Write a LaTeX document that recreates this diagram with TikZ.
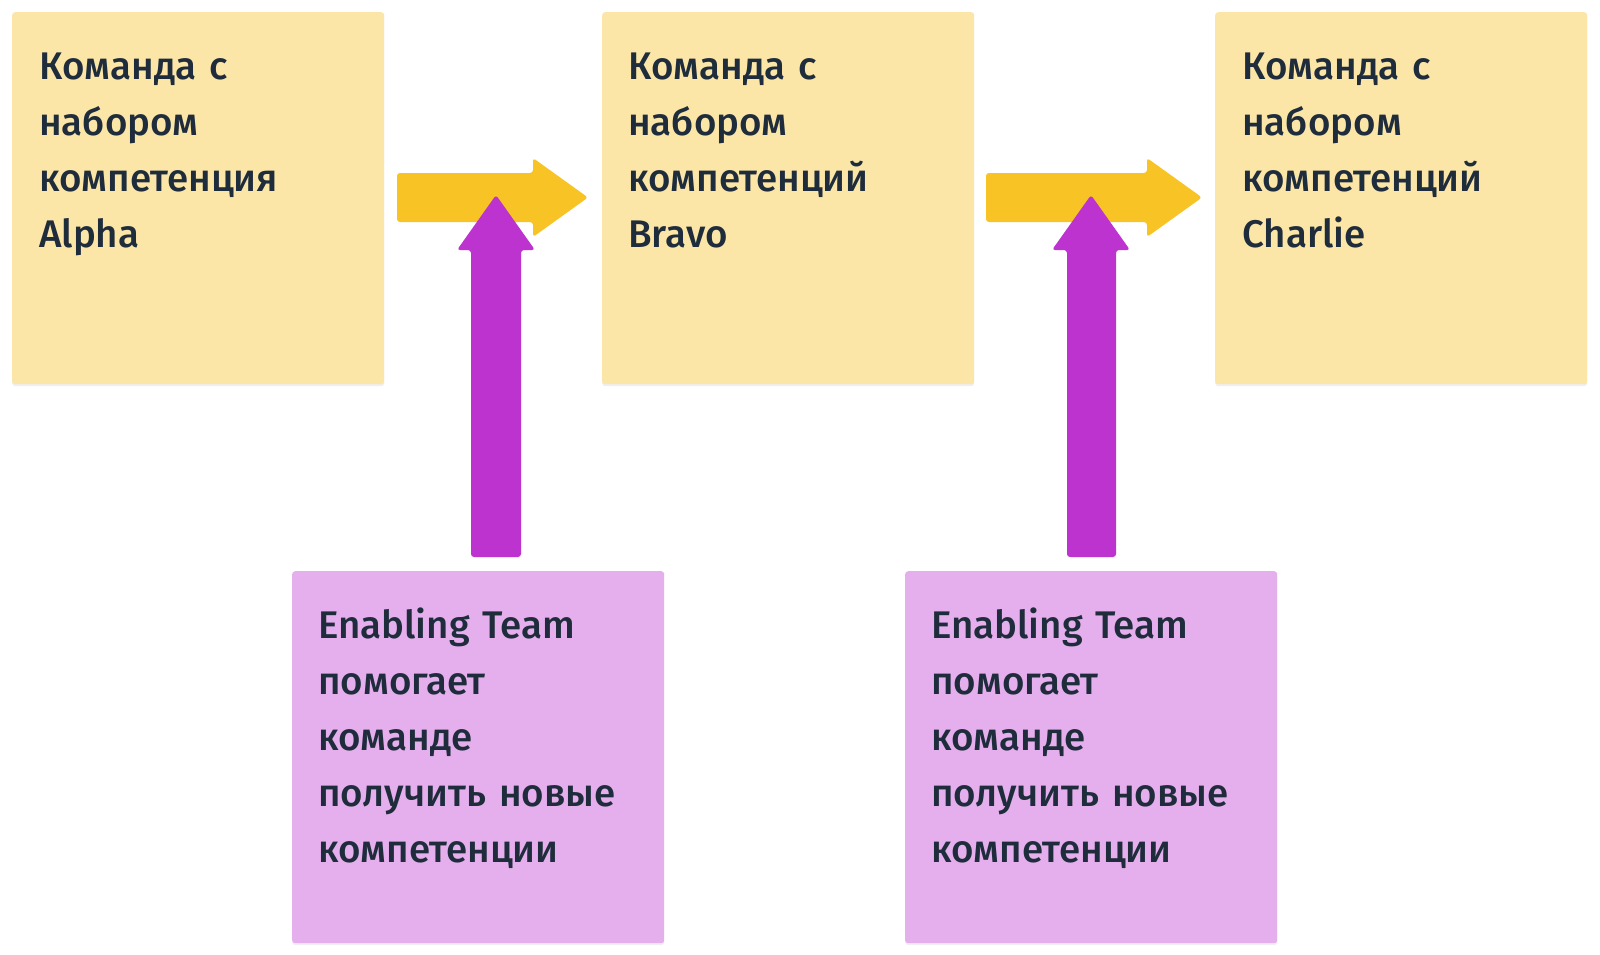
\documentclass[tikz,border=0pt]{standalone}
\usepackage{fontspec}
\setmainfont{Fira Sans}[UprightFont={* Medium}]
\usetikzlibrary{shadows}
\definecolor{boxyellow}{RGB}{251,230,168}
\definecolor{boxpurple}{RGB}{229,174,236}
\definecolor{arrowyellow}{RGB}{248,195,37}
\definecolor{arrowpurple}{RGB}{189,51,207}
\definecolor{textnavy}{RGB}{30,44,60}
\tikzset{
  sticky/.style={rectangle, rounded corners=3pt, inner sep=0pt, minimum width=372pt, minimum height=372pt,
    drop shadow={opacity=0.12, shadow xshift=0pt, shadow yshift=-2pt}},
  yellowbox/.style={sticky, fill=boxyellow},
  purplebox/.style={sticky, fill=boxpurple},
  boxtext/.style={anchor=base west, inner sep=0pt, text width=340pt, align=left, text=textnavy,
    font=\fontsize{38.5}{56}\selectfont},
  yarrow/.style={fill=arrowyellow, rounded corners=3pt},
  parrow/.style={fill=arrowpurple, rounded corners=3pt},
}
\begin{document}
\begin{tikzpicture}[x=1pt,y=-1pt]
\useasboundingbox[fill=white] (0,0) rectangle (1600,955);
% team boxes
\node[yellowbox, anchor=north west] (alpha) at (12,12) {};
\node[yellowbox, anchor=north west] (bravo) at (602,12) {};
\node[yellowbox, anchor=north west] (charlie) at (1215,12) {};
\node[purplebox, anchor=north west] (en1) at (292,571) {};
\node[purplebox, anchor=north west] (en2) at (905,571) {};
% texts
\node[boxtext] (talpha) at ([shift={(27,68)}]alpha.north west) {Команда с\\набором\\компетенция\\Alpha};
\node[boxtext] (tbravo) at ([shift={(26,68)}]bravo.north west) {Команда с\\набором\\компетенций\\Bravo};
\node[boxtext] (tcharlie) at ([shift={(27,68)}]charlie.north west) {Команда с\\набором\\компетенций\\Charlie};
\node[boxtext] (ten1) at ([shift={(26,67)}]en1.north west) {Enabling Team\\помогает\\команде\\получить новые\\компетенции};
\node[boxtext] (ten2) at ([shift={(26,67)}]en2.north west) {Enabling Team\\помогает\\команде\\получить новые\\компетенции};
% yellow block arrows (team to team)
\fill[yarrow] (397,173) -- (533,173) -- (533,158) -- (588,197.5) -- (533,237) -- (533,222) -- (397,222) -- cycle;
\fill[yarrow] (986,173) -- (1147,173) -- (1147,158) -- (1202,197.5) -- (1147,237) -- (1147,222) -- (986,222) -- cycle;
% purple block arrows (enabling team up)
\fill[parrow] (471,557) -- (471,250) -- (457,250) -- (496,195) -- (535,250) -- (521,250) -- (521,557) -- cycle;
\fill[parrow] (1067,557) -- (1067,250) -- (1052,250) -- (1091,195) -- (1130,250) -- (1116,250) -- (1116,557) -- cycle;
\end{tikzpicture}
\end{document}
